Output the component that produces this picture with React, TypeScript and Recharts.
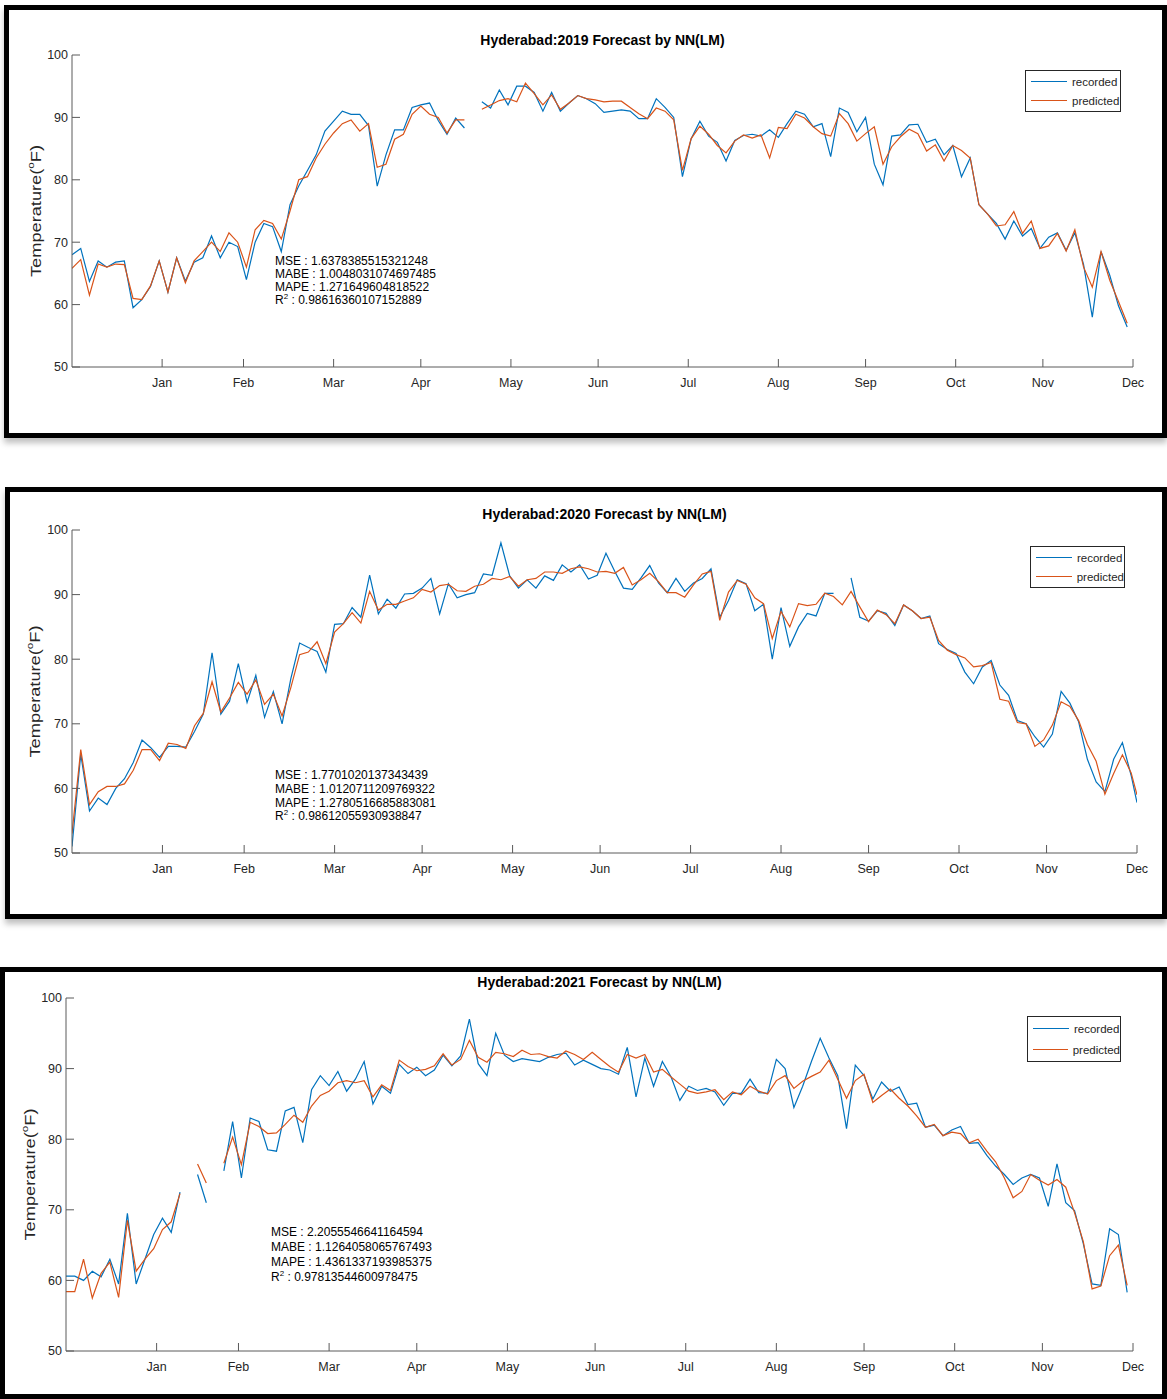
import React from 'react';
import { LineChart, Line, XAxis, YAxis, Label } from 'recharts';

// sample days (every 3rd day of the year + last day)
const days = Array.from({ length: 122 }, (_, i) => i * 3).concat([365]);

const monthTicks = [31, 59, 90, 120, 151, 181, 212, 243, 273, 304, 334, 365];
const monthLabels = ['Jan', 'Feb', 'Mar', 'Apr', 'May', 'Jun', 'Jul', 'Aug', 'Sep', 'Oct', 'Nov', 'Dec'];
const tempTicks = [50, 60, 70, 80, 90, 100];

const recorded2019 = [
  68, 69, 63.7, 67, 66, 66.8, 67, 59.5, 60.8, 62.9,
  67, 62, 67.5, 63.8, 66.8, 67.5, 71, 67.5, 70, 69.3,
  64, 70, 73, 72.5, 68.5, 76, 79, 81.5, 84, 87.8,
  89.4, 91, 90.5, 90.5, 88.7, 79, 84, 88, 88, 91.6,
  92, 92.3, 89.5, 87.3, 89.9, 88.3, null, 92.5, 91.5, 94.4,
  92, 95, 95, 94, 91, 94, 91, 92.3, 93.5, 93,
  92.2, 90.8, 91, 91.2, 91, 89.8, 89.8, 93, 91.6, 90,
  80.5, 86.6, 89.4, 87, 86, 83, 86.3, 87.1, 87.3, 87,
  88, 86.8, 89, 91, 90.5, 88.5, 89, 83.7, 91.5, 90.8,
  87.7, 90, 82.5, 79.2, 87, 87.2, 88.8, 88.9, 86, 86.5,
  84, 85.5, 80.5, 83.5, 76, 74.5, 73, 70.5, 73.4, 71,
  72.2, 69, 70.8, 71.5, 68.7, 71.5, 66.4, 58, 68.5, 64.7,
  59.8, 56.4, null,
];
const predicted2019 = [
  65.8, 67.2, 61.5, 66.5, 66, 66.5, 66.4, 61, 60.8, 63,
  67, 62, 67.5, 63.5, 67, 68.5, 70, 68.5, 71.5, 70,
  66, 72, 73.5, 73, 70.5, 75, 80, 80.5, 83.5, 85.7,
  87.5, 89, 89.6, 87.8, 89, 82, 82.5, 86.5, 87.3, 90.5,
  91.8, 90.5, 90, 87.5, 89.6, 89.6, null, 91.3, 92, 92.7,
  93, 92.5, 95.5, 93.8, 92, 93.6, 91.3, 92.3, 93.5, 93,
  92.8, 92.5, 92.6, 92.6, 91.6, 90.6, 89.8, 91.5, 91, 89.6,
  81.5, 86.6, 88.6, 87.3, 85.5, 84.3, 86.2, 87.2, 86.7, 87.2,
  83.5, 88.4, 88.2, 90.5, 89.9, 88.5, 87.4, 87, 90.6, 89,
  86.2, 87.4, 88.5, 82.5, 85.3, 86.9, 88.1, 87.4, 84.6, 85.6,
  83, 85.5, 84.7, 83.5, 76, 74.5, 72.6, 72.8, 74.9, 71.4,
  73.4, 69, 69.4, 71.4, 68.6, 72, 66, 62.8, 68.5, 63.9,
  60.5, 57, null,
];

const recorded2020 = [
  51, 65.3, 56.5, 58.5, 57.5, 60, 61.5, 64, 67.5, 66.3,
  64.8, 66.5, 66.5, 66.4, 68.8, 71.5, 81, 71.5, 73.5, 79.3,
  73.3, 77.5, 71, 75, 70, 77, 82.5, 81.8, 81.2, 78,
  85.4, 85.5, 88, 86.5, 93, 87, 89.3, 87.9, 90.1, 90.2,
  91, 92.5, 87, 91.7, 89.5, 90, 90.3, 93.2, 93, 98,
  92.9, 91, 92.3, 91, 92.9, 92.2, 94.6, 93.5, 94.6, 92.4,
  93, 96.4, 93.6, 91, 90.8, 92.6, 94.5, 91.8, 90.3, 92.5,
  90.5, 91.8, 92.5, 94, 86.5, 89.1, 92.3, 91.7, 87.5, 88.5,
  80, 88, 82, 85, 87.1, 86.7, 90.2, 90.2, null, 92.6,
  86.5, 85.9, 87.5, 87.1, 85.2, 88.4, 87.5, 86.3, 86.7, 82.4,
  81.5, 80.9, 78, 76.2, 78.8, 79.8, 76, 74.4, 70.5, 70,
  68, 66.4, 68.4, 75, 73.2, 70.3, 64.5, 61, 59.5, 64.5,
  67.1, 62, 57.8,
];
const predicted2020 = [
  53, 66, 57.5, 59.5, 60.3, 60.3, 60.7, 62.8, 66, 66,
  64.3, 67, 66.8, 66.2, 69.7, 71.6, 76.5, 71.8, 74, 76.4,
  74.6, 76.8, 73, 74.6, 71.2, 75.6, 80.7, 81.1, 82.7, 79.3,
  84.2, 85.5, 87.2, 85.6, 90.5, 87.6, 88.5, 88.5, 89, 89.5,
  90.8, 90.4, 91.4, 91.6, 90.6, 90.5, 91.3, 91.6, 92.5, 92.3,
  92.8, 91.3, 92.3, 92.5, 93.5, 93.5, 93.3, 94, 94.3, 94,
  93.5, 93.6, 93.3, 94.2, 91.5, 92.3, 93.3, 92, 90.3, 90.3,
  89.6, 91.5, 93.2, 93.6, 86, 90.4, 92.2, 91.6, 89.5, 88.6,
  83.2, 87.4, 85, 88.6, 88.3, 88.5, 90.2, 89.7, 88.4, 90.5,
  88.1, 85.8, 87.6, 86.9, 85.5, 88.4, 87.5, 86.3, 86.5, 82.9,
  81.4, 80.7, 80.2, 78.8, 79, 79.5, 73.8, 73.5, 70.2, 70,
  66.5, 67.5, 69.8, 73.4, 72.7, 70.5, 66.8, 64.2, 59.1, 62.3,
  65.2, 62.4, 59,
];

const recorded2021 = [
  60.6, 60.6, 60, 61.3, 60.5, 63, 59.5, 69.5, 59.5, 63,
  66.5, 68.8, 66.8, 72.5, null, 75, 71, null, 75.5, 82.5,
  74.5, 83, 82.5, 78.5, 78.3, 84, 84.5, 79.5, 87, 89,
  87.6, 89.6, 86.8, 88.5, 91, 85, 87.5, 86.5, 90.6, 89.3,
  90.2, 89, 89.8, 91.9, 90.4, 91.8, 97, 90.7, 89, 95,
  91.9, 91, 91.4, 91.2, 91, 91.6, 92, 92.2, 90.5, 91.2,
  90.6, 90, 89.8, 89.2, 93, 86, 91.5, 87.5, 91, 88.8,
  85.5, 87.5, 86.9, 87.2, 86.7, 84.8, 86.5, 86.5, 88.5, 86.6,
  86.5, 91.3, 90, 84.5, 87.5, 91, 94.3, 91.5, 89, 81.5,
  90.5, 89, 85.7, 88.1, 86.8, 87.4, 84.9, 85.1, 81.7, 82,
  80.5, 81.3, 81.8, 79.4, 79.5, 77.7, 76.2, 75, 73.6, 74.5,
  75, 74.5, 70.5, 76.5, 71, 69.9, 65.2, 59.5, 59.3, 67.3,
  66.5, 58.3, null,
];
const predicted2021 = [
  58.4, 58.4, 63, 57.5, 61, 62.6, 57.6, 68.5, 61.3, 63,
  64.5, 67.2, 68.3, 72.3, null, 76.5, 73.8, null, 76.6, 80.3,
  76.4, 82.4, 81.8, 80.8, 80.9, 82.1, 83.4, 82.4, 84.7, 86.2,
  86.8, 88, 88.3, 88, 88.3, 86, 87.7, 86.9, 91.2, 90.3,
  89.7, 89.9, 90.4, 92.1, 90.5, 91.3, 94, 91.6, 90.9, 92.3,
  92.1, 91.7, 92.6, 92, 92.1, 91.7, 91.5, 92.5, 92, 91.3,
  92.3, 91.3, 90.3, 89.5, 92, 91.5, 92, 89.5, 89.9, 88.8,
  87.8, 86.8, 86.5, 86.7, 87, 85.6, 86.7, 86.3, 87.5, 86.8,
  86.4, 88.3, 89, 87.2, 88.2, 88.9, 89.5, 91.2, 88.5, 85.8,
  88.3, 89.2, 85.2, 86.2, 87.1, 85.8, 84.7, 83.3, 81.7, 82.1,
  80.5, 81, 80.8, 79.5, 80, 78.3, 76.8, 74.5, 71.7, 72.6,
  75, 74.2, 73.5, 74.3, 73.2, 69.6, 65.5, 58.8, 59.2, 63.5,
  65, 59.3, null,
];

const stats2019 = ['1.6378385515321248', '1.0048031074697485', '1.271649604818522', '0.98616360107152889'];
const stats2020 = ['1.7701020137343439', '1.0120711209769322', '1.2780516685883081', '0.98612055930938847'];
const stats2021 = ['2.2055546641164594', '1.1264058065767493', '1.4361337193985375', '0.97813544600978475'];

const FONT = '"Liberation Sans", Arial, Helvetica, sans-serif';
const BLUE = '#0072BD';
const ORANGE = '#D95319';
const AXIS = '#5a5a5a';
const TEXT = '#262626';
const W = 1167;

type Box = { left: number; right: number; top: number; bottom: number };

type PanelProps = {
  year: string;
  recorded: (number | null)[];
  predicted: (number | null)[];
  stats: string[];
  frame: Box;
  plot: Box;
  titleY: number;
  statsX: number;
  statsY: number;
  statsGap: number;
  legend: { left: number; top: number; width: number; height: number };
  ylabelX: number;
};

function Panel(p: PanelProps) {
  const rows = days.map((d, i) => ({ day: d, recorded: p.recorded[i], predicted: p.predicted[i] }));
  const chartTop = p.plot.top - 60;
  const plotH = p.plot.bottom - p.plot.top;
  const tick = { fontSize: 12.5, fill: TEXT, fontFamily: FONT };
  const statNames = ['MSE', 'MABE', 'MAPE'];

  return (
    <>
      <div
        style={{
          position: 'absolute',
          left: p.frame.left,
          top: p.frame.top,
          width: p.frame.right - p.frame.left,
          height: p.frame.bottom - p.frame.top,
          border: '5px solid #000',
          boxSizing: 'border-box',
          background: '#fff',
          boxShadow: '0 5px 6px rgba(0,0,0,0.25)',
        }}
      />
      <div style={{ position: 'absolute', left: 0, top: chartTop, width: W, height: plotH + 100 }}>
        <LineChart
          width={W}
          height={plotH + 100}
          data={rows}
          margin={{ top: 60, right: W - p.plot.right, bottom: 10, left: 0 }}
        >
          <XAxis
            xAxisId="b"
            dataKey="day"
            type="number"
            domain={[0, 365]}
            ticks={monthTicks}
            interval={0}
            tickFormatter={(v: number) => monthLabels[monthTicks.indexOf(v)]}
            height={30}
            tickSize={-8}
            tickMargin={19}
            stroke={AXIS}
            tick={tick}
            allowDataOverflow
          />
          <XAxis
            xAxisId="t"
            orientation="top"
            dataKey="day"
            type="number"
            domain={[0, 365]}
            ticks={monthTicks}
            interval={0}
            height={0}
            tickSize={-8}
            tick={false}
            stroke={AXIS}
          />
          <YAxis
            yAxisId="l"
            domain={[50, 100]}
            ticks={tempTicks}
            interval={0}
            width={p.plot.left}
            tickSize={-8}
            tickMargin={12}
            stroke={AXIS}
            tick={tick}
            allowDataOverflow
          >
            <Label
              content={(lp: any) => {
                const vb = lp.viewBox || { y: 60, height: plotH };
                const cy = vb.y + vb.height / 2;
                return (
                  <text
                    x={p.ylabelX}
                    y={cy}
                    transform={`rotate(-90 ${p.ylabelX} ${cy})`}
                    textAnchor="middle"
                    dominantBaseline="central"
                    fontFamily={FONT}
                    fontSize={14}
                    fill={TEXT}
                    textLength={132}
                    lengthAdjust="spacingAndGlyphs"
                  >
                    Temperature(<tspan fontSize={9} dy={-5}>o</tspan>
                    <tspan dy={5}>F)</tspan>
                  </text>
                );
              }}
            />
          </YAxis>
          <YAxis
            yAxisId="r"
            orientation="right"
            domain={[50, 100]}
            ticks={tempTicks}
            interval={0}
            width={0}
            tickSize={-8}
            tick={false}
            stroke={AXIS}
          />
          <Line
            xAxisId="b"
            yAxisId="l"
            type="linear"
            dataKey="recorded"
            stroke={BLUE}
            strokeWidth={1.2}
            dot={false}
            isAnimationActive={false}
          />
          <Line
            xAxisId="b"
            yAxisId="l"
            type="linear"
            dataKey="predicted"
            stroke={ORANGE}
            strokeWidth={1.2}
            dot={false}
            isAnimationActive={false}
          />
        </LineChart>
      </div>

      {/* title */}
      <div
        style={{
          position: 'absolute',
          left: p.plot.left,
          width: p.plot.right - p.plot.left,
          top: p.titleY - 9,
          height: 18,
          lineHeight: '18px',
          textAlign: 'center',
          fontFamily: FONT,
          fontWeight: 'bold',
          fontSize: 14,
          color: '#000',
        }}
      >
        Hyderabad:{p.year} Forecast by NN(LM)
      </div>

      {/* error metrics */}
      <div style={{ position: 'absolute', left: p.statsX, top: p.statsY - p.statsGap / 2, fontFamily: FONT, fontSize: 12, color: '#000' }}>
        {statNames.map((n, i) => (
          <div key={n} style={{ height: p.statsGap, lineHeight: `${p.statsGap}px`, whiteSpace: 'nowrap' }}>
            {n} : {p.stats[i]}
          </div>
        ))}
        <div style={{ height: p.statsGap, lineHeight: `${p.statsGap}px`, whiteSpace: 'nowrap' }}>
          R<span style={{ fontSize: 8, position: 'relative', top: -5 }}>2</span> : {p.stats[3]}
        </div>
      </div>

      {/* legend */}
      <div
        style={{
          position: 'absolute',
          left: p.legend.left,
          top: p.legend.top,
          width: p.legend.width,
          height: p.legend.height,
          border: '1px solid #262626',
          background: '#fff',
          boxSizing: 'border-box',
          fontFamily: FONT,
          fontSize: 11.5,
          color: TEXT,
          display: 'flex',
          flexDirection: 'column',
          justifyContent: 'space-around',
          padding: '1px 0',
        }}
      >
        {[
          ['recorded', BLUE],
          ['predicted', ORANGE],
        ].map(([name, c]) => (
          <div key={name} style={{ display: 'flex', alignItems: 'center', height: 16 }}>
            <div style={{ width: 36, height: 1.5, background: c, marginLeft: 5, marginRight: 5 }} />
            <span>{name}</span>
          </div>
        ))}
      </div>
    </>
  );
}

export default function App() {
  return (
    <div style={{ position: 'absolute', left: 0, top: 0, width: W, height: 1399, background: '#fff', overflow: 'hidden' }}>
      <Panel
        year="2019"
        recorded={recorded2019}
        predicted={predicted2019}
        stats={stats2019}
        frame={{ left: 4, right: 1167, top: 5, bottom: 438 }}
        plot={{ left: 72, right: 1133, top: 55, bottom: 367 }}
        titleY={40}
        statsX={275}
        statsY={261}
        statsGap={13}
        legend={{ left: 1025, top: 70, width: 96, height: 42 }}
        ylabelX={36}
      />
      <Panel
        year="2020"
        recorded={recorded2020}
        predicted={predicted2020}
        stats={stats2020}
        frame={{ left: 5, right: 1167, top: 487, bottom: 919 }}
        plot={{ left: 72, right: 1137, top: 530, bottom: 853 }}
        titleY={514}
        statsX={275}
        statsY={776}
        statsGap={13.7}
        legend={{ left: 1030, top: 546, width: 95, height: 42 }}
        ylabelX={35}
      />
      <Panel
        year="2021"
        recorded={recorded2021}
        predicted={predicted2021}
        stats={stats2021}
        frame={{ left: 0, right: 1167, top: 967, bottom: 1399 }}
        plot={{ left: 66, right: 1133, top: 998, bottom: 1351 }}
        titleY={982}
        statsX={271}
        statsY={1232}
        statsGap={15}
        legend={{ left: 1027, top: 1016, width: 94, height: 46 }}
        ylabelX={30}
      />
    </div>
  );
}
